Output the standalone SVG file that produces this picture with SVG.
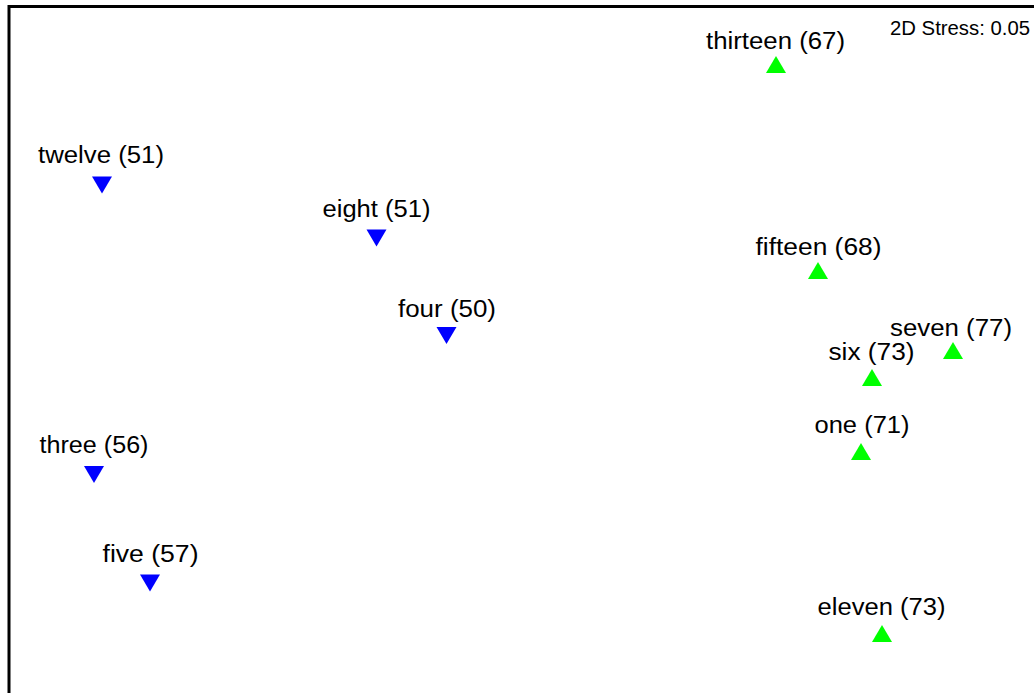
<svg xmlns="http://www.w3.org/2000/svg" width="1034" height="693" viewBox="0 0 1034 693">
<style>
.lbl{font-family:"Liberation Sans",Arial,sans-serif;font-size:23px;fill:#000;text-anchor:middle}
.st{font-family:"Liberation Sans",Arial,sans-serif;font-size:20px;fill:#000}
.dn{fill:#0000ff}
.up{fill:#00ff00}
</style>
<defs>
<polygon id="tdn" points="-10,-8.5 10,-8.5 0,8.5"/>
<polygon id="tup" points="-10,8.5 10,8.5 0,-8.5"/>
</defs>
<rect x="0" y="0" width="1034" height="693" fill="#fff"/>
<path d="M9,693 V6.5 H1034" fill="none" stroke="#000" stroke-width="3"/>
<text class="st" x="890" y="35" textLength="140" lengthAdjust="spacingAndGlyphs">2D Stress: 0.05</text>
<g id="connectors"></g>
<g id="twelve"><use href="#tdn" class="dn" x="102" y="185"/><text class="lbl" x="101" y="163" textLength="126" lengthAdjust="spacingAndGlyphs">twelve (51)</text></g>
<g id="eight"><use href="#tdn" class="dn" x="376.5" y="238"/><text class="lbl" x="376.5" y="217" textLength="108" lengthAdjust="spacingAndGlyphs">eight (51)</text></g>
<g id="four"><use href="#tdn" class="dn" x="446.5" y="335.5"/><text class="lbl" x="447" y="317" textLength="98" lengthAdjust="spacingAndGlyphs">four (50)</text></g>
<g id="three"><use href="#tdn" class="dn" x="94" y="474.5"/><text class="lbl" x="94" y="453" textLength="109" lengthAdjust="spacingAndGlyphs">three (56)</text></g>
<g id="five"><use href="#tdn" class="dn" x="150" y="583"/><text class="lbl" x="150.5" y="562" textLength="96" lengthAdjust="spacingAndGlyphs">five (57)</text></g>
<g id="thirteen"><use href="#tup" class="up" x="776" y="64.5"/><text class="lbl" x="775.5" y="48.5" textLength="139" lengthAdjust="spacingAndGlyphs">thirteen (67)</text></g>
<g id="fifteen"><use href="#tup" class="up" x="818" y="270.5"/><text class="lbl" x="818.5" y="255" textLength="126" lengthAdjust="spacingAndGlyphs">fifteen (68)</text></g>
<g id="seven"><use href="#tup" class="up" x="953" y="350.5"/><text class="lbl" x="951" y="336" textLength="122" lengthAdjust="spacingAndGlyphs">seven (77)</text></g>
<g id="six"><use href="#tup" class="up" x="872" y="377.5"/><text class="lbl" x="871.5" y="359.5" textLength="86" lengthAdjust="spacingAndGlyphs">six (73)</text></g>
<g id="one"><use href="#tup" class="up" x="861" y="451.5"/><text class="lbl" x="862" y="433" textLength="95" lengthAdjust="spacingAndGlyphs">one (71)</text></g>
<g id="eleven"><use href="#tup" class="up" x="882" y="633.5"/><text class="lbl" x="881.5" y="615" textLength="128" lengthAdjust="spacingAndGlyphs">eleven (73)</text></g>
</svg>
